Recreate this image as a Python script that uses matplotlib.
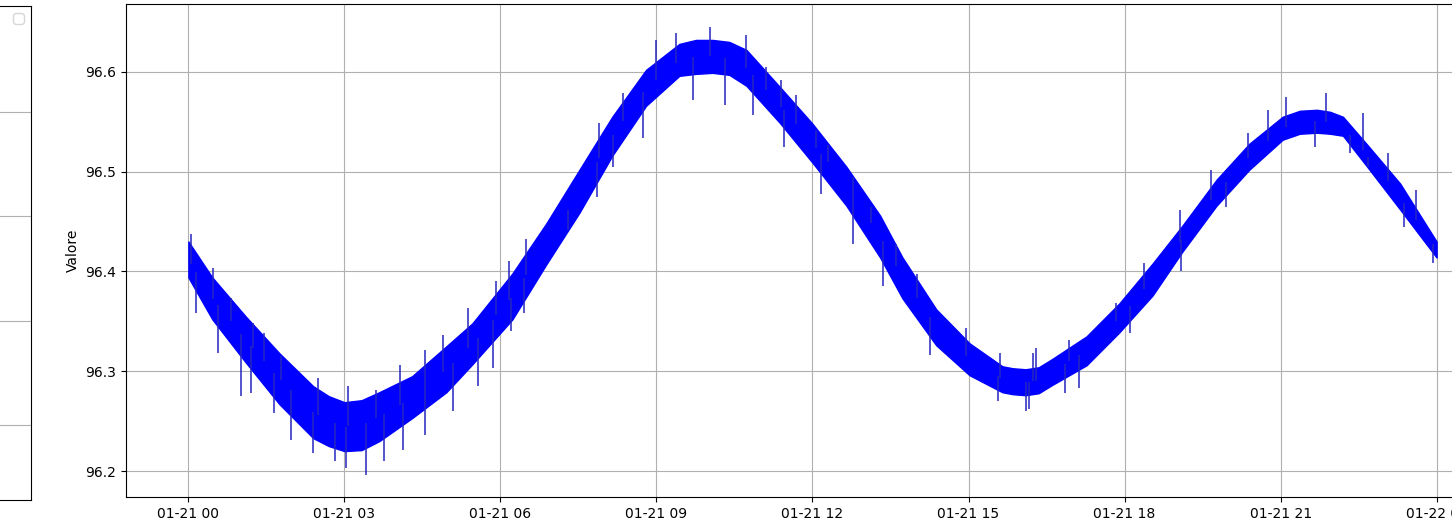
import datetime as dt
import numpy as np
import matplotlib
matplotlib.use("Agg")
import matplotlib.pyplot as plt
import matplotlib.dates as mdates

# ---- data (hours after 2024-01-21 00:00) ----
# core band of the noisy signal
env_hours = [0.0, 0.46, 1.1, 1.75, 2.4, 2.7, 3.0, 3.33, 3.67, 4.3, 4.96, 5.46,
             6.23, 6.88, 7.52, 8.15, 8.8, 9.44, 9.76, 10.08, 10.4, 10.73,
             11.37, 12.0, 12.65, 13.3, 13.73, 14.38, 15.02, 15.65, 15.85,
             16.1, 16.35, 16.6, 17.27, 17.9, 18.54, 19.1, 19.77, 20.4, 21.04,
             21.37, 21.7, 21.95, 22.2, 22.65, 23.3, 24.0]
env_upper = [96.430, 96.394, 96.355, 96.318, 96.285, 96.275, 96.269, 96.271,
             96.279, 96.295, 96.325, 96.348, 96.398, 96.448, 96.502, 96.555,
             96.602, 96.628, 96.632, 96.632, 96.630, 96.622, 96.585, 96.548,
             96.505, 96.456, 96.414, 96.362, 96.328, 96.305, 96.303, 96.302,
             96.304, 96.312, 96.335, 96.368, 96.408, 96.445, 96.492, 96.528,
             96.555, 96.561, 96.562, 96.560, 96.555, 96.528, 96.488, 96.430]
env_lower = [96.394, 96.352, 96.309, 96.267, 96.233, 96.225, 96.220, 96.221,
             96.230, 96.253, 96.279, 96.307, 96.352, 96.407, 96.459, 96.516,
             96.566, 96.596, 96.598, 96.599, 96.597, 96.586, 96.549, 96.509,
             96.466, 96.414, 96.373, 96.326, 96.296, 96.279, 96.277, 96.276,
             96.278, 96.286, 96.306, 96.339, 96.376, 96.419, 96.466, 96.502,
             96.532, 96.538, 96.539, 96.538, 96.536, 96.506, 96.462, 96.414]

# isolated spikes reaching out of the band
spike_hours = [0.05, 0.15, 0.47, 0.56, 0.82, 1.01, 1.21, 1.24, 1.46, 1.65,
               1.78, 1.97, 2.39, 2.49, 2.81, 3.03, 3.06, 3.42, 3.61, 3.77,
               4.06, 4.12, 4.54, 4.54, 4.89, 5.08, 5.37, 5.56, 5.85, 5.92,
               6.17, 6.2, 6.46, 6.49, 7.29, 7.85, 7.9, 8.16, 8.35, 8.74, 8.99,
               9.38, 9.70, 10.02, 10.31, 10.72, 10.85, 11.11, 11.40, 11.46,
               11.69, 12.07, 12.17, 12.29, 12.78, 12.78, 13.13, 13.35, 13.61,
               14.0, 14.25, 14.96, 15.56, 15.6, 16.1, 16.17, 16.24, 16.3, 16.85,
               16.94, 17.13, 17.84, 18.1, 18.38, 19.06, 19.09, 19.67, 19.96,
               20.37, 20.76, 21.11, 21.67, 21.88, 22.34, 22.58, 22.69, 23.06,
               23.38, 23.61, 23.93]
spike_values = [96.438, 96.358, 96.403, 96.318, 96.373, 96.275, 96.278, 96.348,
                96.338, 96.258, 96.315, 96.231, 96.218, 96.293, 96.210, 96.203,
                96.285, 96.196, 96.281, 96.210, 96.306, 96.221, 96.236, 96.321,
                96.336, 96.260, 96.363, 96.285, 96.303, 96.390, 96.410, 96.340,
                96.358, 96.433, 96.442, 96.475, 96.549, 96.505, 96.579, 96.534,
                96.632, 96.639, 96.572, 96.645, 96.567, 96.637, 96.557, 96.605,
                96.592, 96.525, 96.577, 96.542, 96.478, 96.527, 96.495, 96.428,
                96.465, 96.385, 96.428, 96.397, 96.316, 96.343, 96.270, 96.318,
                96.260, 96.262, 96.318, 96.323, 96.278, 96.331, 96.283, 96.368,
                96.338, 96.408, 96.462, 96.400, 96.502, 96.465, 96.539, 96.562,
                96.575, 96.525, 96.579, 96.519, 96.559, 96.505, 96.519, 96.445,
                96.482, 96.408]

start = dt.datetime(2024, 1, 21)
env_t = [start + dt.timedelta(hours=h) for h in env_hours]
spike_t = [start + dt.timedelta(hours=h) for h in spike_hours]

W, H = 1452, 518
fig = plt.figure(figsize=(W / 100, H / 100), dpi=100)

# partially visible neighbouring axes on the left
ax0 = fig.add_axes([-0.3, 18 / H, 0.3 + 31 / W, 494 / H])
ax0.set_ylim(-0.719, 4.017)
ax0.set_yticks([0, 1, 2, 3])
ax0.set_xticks([])
ax0.tick_params(labelleft=False)
ax0.grid(True, axis="y", color="#b0b0b0", linewidth=0.8)
ax0.legend(handles=[], loc="upper right")

# main axes (extends past the right edge of the picture)
ax = fig.add_axes([126 / W, 21 / H, 1373 / W, 493 / H])
ax.fill_between(env_t, env_lower, env_upper, color="#0000ff",
                edgecolor="#0000ff", linewidth=1.0)
env_num = mdates.date2num(env_t)
sp_num = mdates.date2num(spike_t)
centre = np.interp(sp_num, env_num,
                   (np.array(env_upper) + np.array(env_lower)) / 2)
ax.vlines(spike_t, centre, spike_values, color="#2626c0", linewidth=1.1)

ax.set_xlim(start - dt.timedelta(hours=1.2), start + dt.timedelta(hours=25.2))
ax.set_ylim(96.174, 96.668)
ax.xaxis.set_major_locator(mdates.HourLocator(byhour=range(0, 24, 3)))
ax.xaxis.set_major_formatter(mdates.DateFormatter("%m-%d %H"))
ax.set_yticks([96.2, 96.3, 96.4, 96.5, 96.6])
ax.grid(True, color="#b0b0b0", linewidth=0.8)
ax.set_axisbelow(True)
ax.set_ylabel("Valore")

fig.savefig("out.png", dpi=100)
